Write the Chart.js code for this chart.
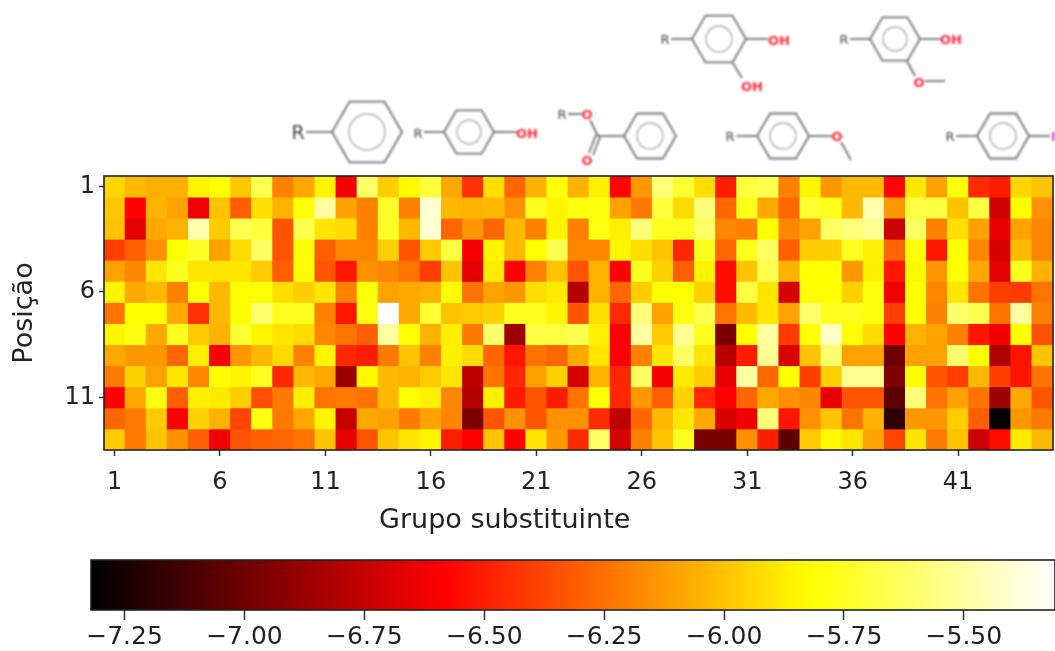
<!DOCTYPE html>
<html lang="pt">
<head>
<meta charset="utf-8">
<title>Posição x Grupo substituinte</title>
<script src="https://cdn.jsdelivr.net/npm/chart.js@4"></script>
<style>
    body { margin: 0; background: #fff; width: 1055px; height: 651px; overflow: hidden; position: relative; }
    canvas { position: absolute; left: 0; filter: blur(0.7px); }
    #mapa { top: 0; }
    #barra { top: 540px; }
    #moleculas { position: absolute; left: 0; top: 0; filter: blur(0.8px); }
    #moleculas line, #moleculas polygon, #moleculas circle { stroke: #737373; fill: none; stroke-width: 1.8; }
    #moleculas circle { stroke: #aaa; stroke-width: 1.4; }
    #moleculas text { font-family: 'DejaVu Sans'; font-size: 13px; text-anchor: middle; dominant-baseline: central; }
    #moleculas .r { fill: #444; }
    #moleculas .o { fill: #ff2a3c; font-weight: bold; }
    #moleculas .f { fill: #c84cd8; text-anchor: start; font-weight: bold; }
</style>
</head>
<body>
<canvas id="mapa" width="1055" height="535"></canvas>
<canvas id="barra" width="1055" height="111"></canvas>
<svg id="moleculas" width="1055" height="175">
    <text class="r" x="298" y="132" style="font-size:19px">R</text>
    <line x1="306" y1="132" x2="332" y2="132"/>
    <polygon id="m1" points="402,132 384.5,162.3 349.5,162.3 332,132 349.5,101.7 384.5,101.7"/>
    <circle cx="367" cy="132" r="18"/>

    <text class="r" x="418" y="133">R</text>
    <line x1="424" y1="132" x2="444" y2="132"/>
    <polygon points="494,132 481.5,153.7 456.5,153.7 444,132 456.5,110.3 481.5,110.3"/>
    <circle cx="469" cy="132" r="12"/>
    <line x1="494" y1="132" x2="517" y2="132"/>
    <text class="o" x="527" y="133">OH</text>

    <text class="r" x="562" y="114">R</text>
    <line x1="568" y1="114" x2="582" y2="114"/>
    <text class="o" x="587" y="114">O</text>
    <line x1="590" y1="120" x2="598" y2="136"/>
    <line x1="598" y1="136" x2="624" y2="136"/>
    <line x1="596" y1="135" x2="589" y2="153"/>
    <line x1="600" y1="137" x2="593" y2="155"/>
    <text class="o" x="587" y="160">O</text>
    <polygon points="676,136 663,158.5 637,158.5 624,136 637,113.5 663,113.5"/>
    <circle cx="650" cy="136" r="13"/>

    <text class="r" x="665" y="39">R</text>
    <line x1="671" y1="39" x2="692" y2="39"/>
    <polygon points="746,39 732.5,62.4 705.5,62.4 692,39 705.5,15.6 732.5,15.6"/>
    <circle cx="719" cy="39" r="13"/>
    <line x1="746" y1="39" x2="768" y2="39"/>
    <text class="o" x="779" y="40">OH</text>
    <line x1="732" y1="62" x2="742" y2="78"/>
    <text class="o" x="752" y="86">OH</text>

    <text class="r" x="844" y="39">R</text>
    <line x1="850" y1="39" x2="870" y2="39"/>
    <polygon points="920,39 907.5,60.7 882.5,60.7 870,39 882.5,17.3 907.5,17.3"/>
    <circle cx="895" cy="39" r="12"/>
    <line x1="920" y1="39" x2="941" y2="39"/>
    <text class="o" x="951" y="39">OH</text>
    <line x1="907" y1="61" x2="915" y2="76"/>
    <text class="o" x="919" y="82">O</text>
    <line x1="925" y1="81" x2="945" y2="81"/>

    <text class="r" x="730" y="136">R</text>
    <line x1="736" y1="136" x2="757" y2="136"/>
    <polygon points="809,136 796,158.5 770,158.5 757,136 770,113.5 796,113.5"/>
    <circle cx="783" cy="136" r="13"/>
    <line x1="809" y1="136" x2="832" y2="136"/>
    <text class="o" x="837" y="136">O</text>
    <line x1="841" y1="142" x2="851" y2="160"/>

    <text class="r" x="950" y="136">R</text>
    <line x1="956" y1="136" x2="977" y2="136"/>
    <polygon points="1029,136 1016,158.5 990,158.5 977,136 990,113.5 1016,113.5"/>
    <circle cx="1003" cy="136" r="13"/>
    <line x1="1029" y1="136" x2="1050" y2="136"/>
    <text class="f" x="1051" y="136">F</text>
</svg>
<script>
const pos1 = [-5.94,-6.03,-6.06,-6.06,-5.85,-5.82,-5.99,-5.66,-6.20,-6.08,-5.85,-6.62,-5.62,-5.97,-5.83,-5.70,-6.08,-6.44,-5.92,-6.28,-6.05,-5.80,-6.05,-5.87,-6.57,-6.13,-5.58,-5.72,-5.92,-6.50,-5.70,-5.66,-6.20,-5.85,-6.13,-6.03,-6.03,-6.57,-5.89,-6.10,-5.80,-6.46,-6.50,-5.94,-6.00];
const pos2 = [-5.99,-6.58,-6.05,-6.10,-6.63,-6.00,-6.30,-5.92,-6.05,-5.82,-5.50,-6.10,-6.20,-5.74,-6.20,-5.40,-6.03,-6.05,-6.03,-6.15,-5.76,-5.85,-5.79,-5.79,-6.10,-6.22,-5.70,-5.93,-5.58,-6.28,-5.77,-6.08,-6.28,-5.72,-5.77,-6.03,-5.47,-6.13,-5.69,-5.69,-6.00,-5.69,-6.73,-5.82,-6.15];
const pos3 = [-6.00,-6.67,-6.08,-6.05,-5.47,-5.98,-5.66,-5.70,-6.33,-5.66,-5.90,-5.93,-6.20,-5.74,-6.03,-5.40,-6.28,-6.13,-6.28,-6.03,-6.20,-5.85,-6.20,-5.79,-5.87,-5.58,-5.76,-5.76,-5.62,-6.18,-6.20,-5.82,-6.18,-6.10,-5.62,-5.58,-5.53,-6.73,-5.62,-6.20,-5.92,-6.10,-6.65,-6.10,-6.18];
const pos4 = [-6.40,-6.30,-6.15,-5.82,-5.74,-6.10,-5.93,-5.62,-6.33,-5.82,-6.30,-6.18,-6.18,-5.96,-6.33,-5.98,-5.69,-6.61,-5.85,-6.03,-5.82,-5.66,-6.18,-6.18,-5.85,-5.92,-6.00,-6.47,-5.76,-6.28,-5.76,-5.62,-6.30,-5.97,-5.97,-5.76,-5.87,-6.28,-5.82,-6.52,-5.82,-6.18,-6.70,-6.03,-6.18];
const pos5 = [-6.10,-6.18,-5.90,-5.76,-5.90,-5.90,-5.90,-5.98,-6.30,-5.82,-6.33,-6.52,-6.15,-6.18,-6.24,-6.40,-6.00,-6.67,-5.88,-6.58,-6.20,-6.00,-6.33,-6.05,-6.58,-5.76,-5.96,-6.30,-5.85,-6.55,-6.00,-5.66,-6.05,-5.82,-5.82,-6.13,-5.87,-6.52,-5.84,-6.13,-5.82,-6.08,-6.67,-5.76,-6.05];
const pos6 = [-5.85,-6.08,-6.03,-6.20,-5.82,-6.03,-5.82,-5.82,-5.92,-5.97,-5.90,-6.20,-5.82,-6.10,-6.08,-6.05,-5.82,-6.24,-6.10,-6.13,-5.92,-5.88,-6.80,-6.05,-6.28,-5.97,-5.82,-5.82,-5.96,-6.55,-5.69,-5.90,-6.70,-5.82,-5.82,-5.96,-5.79,-6.63,-5.82,-6.18,-5.90,-6.24,-6.40,-6.41,-6.24];
const pos7 = [-6.24,-5.82,-5.82,-6.08,-6.44,-6.03,-5.82,-5.60,-5.76,-5.76,-6.20,-6.52,-5.79,-5.31,-6.08,-5.72,-6.00,-5.98,-5.96,-5.76,-5.76,-5.85,-6.33,-5.92,-6.46,-5.58,-6.10,-5.79,-5.66,-6.24,-6.03,-5.90,-6.10,-5.60,-5.76,-5.76,-5.79,-6.40,-5.82,-6.20,-5.60,-5.66,-6.24,-5.50,-6.20];
const pos8 = [-5.85,-5.79,-6.08,-5.76,-5.98,-6.05,-5.72,-5.85,-5.90,-5.93,-6.18,-6.24,-6.30,-5.50,-5.82,-6.05,-5.87,-6.22,-5.60,-6.87,-5.69,-5.69,-5.66,-5.87,-6.60,-5.50,-5.98,-5.53,-5.76,-6.96,-5.82,-5.50,-6.41,-5.82,-5.43,-5.82,-5.93,-6.58,-6.05,-6.10,-6.20,-6.52,-6.63,-5.82,-6.35];
const pos9 = [-6.08,-6.13,-6.13,-6.28,-5.87,-6.61,-6.13,-6.03,-5.93,-6.20,-5.85,-6.47,-6.50,-6.22,-6.00,-6.20,-5.87,-5.93,-6.28,-6.52,-6.24,-6.28,-6.08,-5.90,-6.60,-6.20,-5.90,-5.62,-5.90,-6.79,-6.50,-5.53,-6.69,-6.00,-5.60,-6.10,-6.10,-7.01,-6.10,-6.10,-5.60,-5.82,-6.82,-6.52,-6.00];
const pos10 = [-6.22,-5.96,-6.10,-5.90,-6.18,-5.82,-5.85,-5.76,-6.47,-6.03,-6.08,-6.87,-5.84,-6.03,-6.05,-5.98,-5.90,-6.77,-6.24,-6.47,-6.10,-5.96,-6.70,-6.05,-6.47,-5.62,-6.61,-5.88,-5.97,-6.65,-5.50,-6.28,-5.82,-6.40,-5.96,-5.53,-5.53,-6.95,-5.82,-6.33,-6.40,-6.03,-6.40,-6.52,-6.24];
const pos11 = [-6.58,-6.08,-5.79,-6.30,-5.87,-5.88,-5.97,-6.35,-6.22,-5.87,-6.24,-6.22,-6.24,-6.03,-5.82,-5.87,-6.18,-6.80,-5.87,-6.50,-6.33,-6.50,-6.24,-5.82,-6.47,-6.13,-6.30,-5.96,-6.47,-6.58,-6.28,-6.08,-6.15,-6.18,-6.65,-6.33,-6.33,-7.05,-5.58,-6.24,-6.10,-6.24,-6.87,-6.08,-6.33];
const pos12 = [-6.28,-6.22,-5.98,-6.60,-5.96,-6.05,-6.38,-5.79,-6.22,-6.08,-5.85,-6.75,-6.08,-6.10,-6.22,-6.10,-6.18,-6.96,-6.33,-6.15,-6.33,-6.15,-6.15,-6.46,-6.77,-6.28,-6.03,-5.90,-6.08,-6.70,-6.63,-5.58,-6.52,-6.15,-6.00,-6.24,-6.05,-7.18,-6.13,-6.13,-5.97,-6.30,-7.31,-6.13,-6.22];
const pos13 = [-5.98,-6.22,-6.00,-6.15,-6.30,-6.62,-6.33,-6.30,-6.28,-6.24,-6.00,-6.65,-6.33,-6.00,-5.90,-5.85,-6.50,-6.58,-6.00,-6.58,-5.90,-6.13,-6.46,-5.62,-6.70,-6.20,-6.00,-5.76,-6.97,-6.97,-6.15,-6.50,-7.05,-5.98,-5.84,-5.90,-6.10,-6.38,-5.90,-6.22,-6.00,-6.73,-6.55,-5.88,-6.03];
const linhas = [pos1, pos2, pos3, pos4, pos5, pos6, pos7, pos8, pos9, pos10, pos11, pos12, pos13];

const grupos = pos1.map((v, i) => String(i + 1));
const ticksX = [0, 5, 10, 15, 20, 25, 30, 35, 40];
const ticksY = [1, 6, 11];
const ticksBarra = [-7.25, -7, -6.75, -6.5, -6.25, -6, -5.75, -5.5];
const vMin = -7.32;
const vMax = -5.31;

const fonteTicks = { family: "'DejaVu Sans'", size: 24 };
const fonteTitulo = { family: "'DejaVu Sans'", size: 27 };
const fonteBarra = { family: "'DejaVu Sans'", size: 25 };

// colormap "hot" do matplotlib
function hot(v) {
    const t = (v - vMin) / (vMax - vMin);
    const r = Math.min(1, t / 0.365);
    const g = Math.max(0, Math.min(1, (t - 0.365) / 0.381));
    const b = Math.max(0, Math.min(1, (t - 0.746) / 0.254));
    return 'rgb(' + Math.round(r * 255) + ',' + Math.round(g * 255) + ',' + Math.round(b * 255) + ')';
}

const moldura = {
    id: 'moldura',
    afterDraw(chart) {
        const a = chart.chartArea;
        chart.ctx.save();
        chart.ctx.strokeStyle = '#222';
        chart.ctx.lineWidth = 1.6;
        chart.ctx.strokeRect(a.left, a.top, a.right - a.left, a.bottom - a.top);
        chart.ctx.restore();
    }
};

// o titulo do eixo x nao fica no centro da area (figura original foi cortada)
const tituloX = {
    id: 'tituloX',
    afterDraw(chart) {
        const ctx = chart.ctx;
        ctx.save();
        ctx.font = fonteTitulo.size + 'px ' + fonteTitulo.family;
        ctx.fillStyle = '#222';
        ctx.textAlign = 'center';
        ctx.textBaseline = 'middle';
        ctx.fillText('Grupo substituinte', chart.scales.x.getPixelForValue(18.5), 521);
        ctx.restore();
    }
};

new Chart(document.getElementById('mapa').getContext('2d'), {
    type: 'bar',
    data: {
        labels: grupos,
        datasets: linhas.map((linha, r) => ({
            label: 'Posição ' + (r + 1),
            data: linha.map(() => [r + 0.5, r + 1.5]),
            backgroundColor: linha.map(hot),
            barPercentage: 1,
            categoryPercentage: 1,
            inflateAmount: 0.4,
            borderWidth: 0
        }))
    },
    options: {
        responsive: false,
        animation: false,
        layout: { padding: { top: 176, right: 2 } },
        plugins: { legend: { display: false }, tooltip: { enabled: false } },
        scales: {
            x: {
                stacked: true,
                offset: true,
                afterBuildTicks: scale => { scale.ticks = ticksX.map(v => ({ value: v })); },
                afterFit: scale => { scale.height = 85; },
                ticks: { autoSkip: false, maxRotation: 0, color: '#222', font: fonteTicks, padding: 12 },
                grid: { display: true, offset: false, drawOnChartArea: false, tickLength: 6, tickColor: '#333', tickWidth: 1.5 },
                border: { display: false }
            },
            y: {
                reverse: true,
                min: 0.5,
                max: 13.5,
                afterBuildTicks: scale => { scale.ticks = ticksY.map(v => ({ value: v })); },
                afterFit: scale => { scale.width = 104; },
                ticks: { color: '#222', font: fonteTicks, padding: 4 },
                grid: { display: true, drawOnChartArea: false, tickLength: 5, tickColor: '#333', tickWidth: 1.5 },
                border: { display: false },
                title: { display: true, text: 'Posição', color: '#222', font: fonteTitulo, padding: { top: 9, bottom: 0 } }
            }
        }
    },
    plugins: [moldura, tituloX]
});

new Chart(document.getElementById('barra').getContext('2d'), {
    type: 'bar',
    data: {
        labels: ['escala'],
        datasets: [{
            data: [[vMin, vMax]],
            barPercentage: 1,
            categoryPercentage: 1,
            borderWidth: 0,
            backgroundColor: c => {
                const a = c.chart.chartArea;
                if (!a) return '#000';
                const g = c.chart.ctx.createLinearGradient(a.left, 0, a.right, 0);
                g.addColorStop(0, '#000');
                g.addColorStop(0.365, '#f00');
                g.addColorStop(0.746, '#ff0');
                g.addColorStop(1, '#fff');
                return g;
            }
        }]
    },
    options: {
        indexAxis: 'y',
        responsive: false,
        animation: false,
        layout: { padding: { top: 20, left: 91, right: 0 } },
        plugins: { legend: { display: false }, tooltip: { enabled: false } },
        scales: {
            y: { display: false },
            x: {
                min: vMin,
                max: vMax,
                afterBuildTicks: scale => { scale.ticks = ticksBarra.map(v => ({ value: v })); },
                afterFit: scale => { scale.height = 41; },
                ticks: {
                    color: '#222',
                    font: fonteBarra,
                    padding: 2,
                    maxRotation: 0,
                    callback: v => v.toFixed(2).replace('-', '\u2212')
                },
                grid: { display: true, drawOnChartArea: false, tickLength: 10, tickColor: '#333', tickWidth: 1.5 },
                border: { display: false }
            }
        }
    },
    plugins: [moldura]
});
</script>
</body>
</html>
